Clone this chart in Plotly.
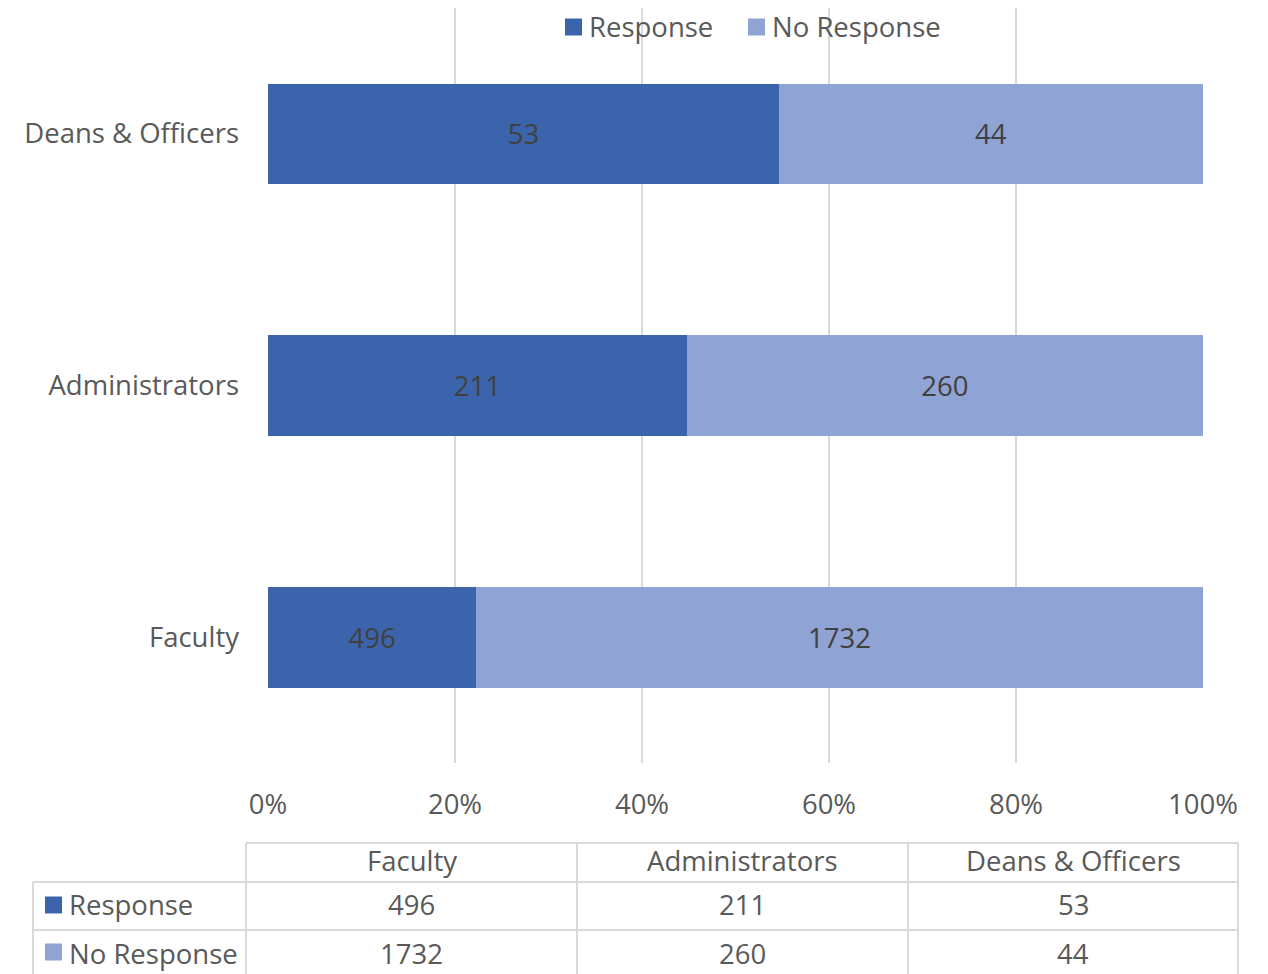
import plotly.graph_objects as go

categories = ["Faculty", "Administrators", "Deans & Officers"]
response = [496, 211, 53]
no_response = [1732, 260, 44]
series_names = ["Response", "No Response"]
x_tick_vals = [0, 20, 40, 60, 80, 100]
x_tick_text = ["0%", "20%", "40%", "60%", "80%", "100%"]

C_RESP = "#3C64AD"
C_NORESP = "#8FA3D4"
TXT = "#595959"
GRID = "#D9D9D9"
FONT = "Open Sans"
FS = 27.5

W, H = 1268, 974
OFF = 8  # page offset of the figure
L, R, T, B = 260, 73, 0, 219
PW, PH = W - L - R, H - T - B

fig = go.Figure()
for name, vals, col in [(series_names[0], response, C_RESP), (series_names[1], no_response, C_NORESP)]:
    fig.add_trace(go.Bar(
        y=categories, x=vals, name=name, orientation="h",
        marker=dict(color=col, line=dict(width=0)),
        text=[str(v) for v in vals], textposition="inside", insidetextanchor="middle",
        textfont=dict(color="#404040", size=FS, family=FONT),
        constraintext="none", width=0.4, showlegend=False,
    ))

fig.update_layout(
    width=W, height=H, barmode="stack", barnorm="percent",
    margin=dict(l=L, r=R, t=T, b=B, autoexpand=False),
    plot_bgcolor="white", paper_bgcolor="white",
    font=dict(family=FONT, size=FS, color=TXT),
    showlegend=False,
    xaxis=dict(range=[0, 100], tickvals=x_tick_vals, ticktext=x_tick_text,
               showgrid=True, gridcolor=GRID, gridwidth=2, zeroline=False,
               showline=False, ticks="", ticklabelstandoff=22, tickangle=0,
               automargin=False, tickfont=dict(size=FS, color=TXT)),
    yaxis=dict(range=[-0.5, 2.5], showgrid=False, zeroline=False, showline=False,
               ticks="", ticklabelstandoff=28, automargin=False,
               tickfont=dict(size=FS, color=TXT)),
    uniformtext=dict(mode=False),
)


def px(x):
    return (x - OFF - L) / PW


def py(y):
    return (H - B - (y - OFF)) / PH


line = dict(color=GRID, width=2)
shapes = []
ann = []

# Top legend
for xk, xt, yc, name, col in [(565, 587, 27, series_names[0], C_RESP), (748, 770, 27, series_names[1], C_NORESP)]:
    shapes.append(dict(type="rect", xref="paper", yref="paper", x0=px(xk), x1=px(xk + 17),
                       y0=py(yc + 8.5), y1=py(yc - 8.5), fillcolor=col, line=dict(width=0)))
    ann.append(dict(x=px(xt), y=py(yc), xref="paper", yref="paper", text=name, showarrow=False,
                    xanchor="left", yanchor="middle", font=dict(size=FS, color=TXT)))

# Data table beneath the chart
col_edges = [246, 577, 908, 1238]
shapes.append(dict(type="line", xref="paper", yref="paper", x0=px(246), x1=px(1238), y0=py(843), y1=py(843), line=line))
for yy in [882, 930]:
    shapes.append(dict(type="line", xref="paper", yref="paper", x0=px(33), x1=px(1238), y0=py(yy), y1=py(yy), line=line))
for xx in col_edges:
    shapes.append(dict(type="line", xref="paper", yref="paper", x0=px(xx), x1=px(xx), y0=py(843), y1=py(990), line=line))
shapes.append(dict(type="line", xref="paper", yref="paper", x0=px(33), x1=px(33), y0=py(882), y1=py(990), line=line))
for (yc, col) in [(905, C_RESP), (952, C_NORESP)]:
    shapes.append(dict(type="rect", xref="paper", yref="paper", x0=px(45), x1=px(62), y0=py(yc + 8.5), y1=py(yc - 8.5),
                       fillcolor=col, line=dict(width=0)))

centers = [(col_edges[i] + col_edges[i + 1]) / 2 for i in range(3)]
for c, cat in zip(centers, categories):
    ann.append(dict(x=px(c), y=py(861), xref="paper", yref="paper", text=cat, showarrow=False,
                    xanchor="center", yanchor="middle", font=dict(size=FS, color=TXT)))
for yc, name, vals in [(904, series_names[0], response), (953, series_names[1], no_response)]:
    ann.append(dict(x=px(67), y=py(yc), xref="paper", yref="paper", text=name, showarrow=False,
                    xanchor="left", yanchor="middle", font=dict(size=FS, color=TXT)))
    for c, v in zip(centers, vals):
        ann.append(dict(x=px(c), y=py(yc), xref="paper", yref="paper", text=str(v), showarrow=False,
                        xanchor="center", yanchor="middle", font=dict(size=FS, color=TXT)))

fig.update_layout(shapes=shapes, annotations=ann)
fig.write_html("out.html")
